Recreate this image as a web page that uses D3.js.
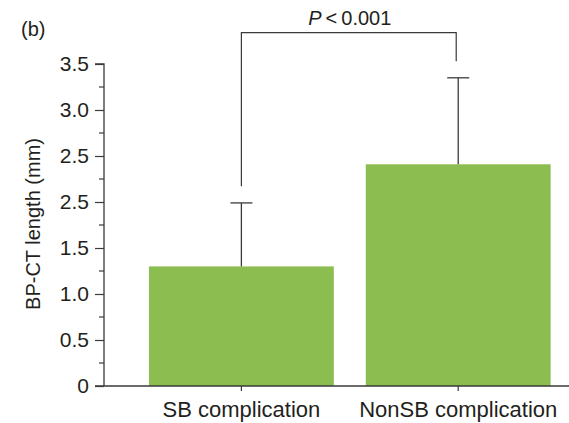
<!DOCTYPE html>
<html>
<head>
<meta charset="utf-8">
<script src="https://cdn.jsdelivr.net/npm/d3@7"></script>
<style>
  body { margin: 0; background: #fff; }
  svg { display: block; font-family: "Liberation Sans", Arial, sans-serif; }
</style>
</head>
<body>
<svg id="chart" width="569" height="423"></svg>
<script>
// data
const categories = ['SB complication', 'NonSB complication'];
const means = [1.3, 2.41];
const errTops = [1.99, 3.35];
const yTickValues = [0, 0.5, 1.0, 1.5, 2.0, 2.5, 3.0, 3.5];
const yTickLabels = ['0', '0.5', '1.0', '1.5', '2.5', '2.5', '3.0', '3.5']; // as printed
const bracketLegs = [2.17, 3.53];
const bracketTop = 3.84;
const pLabel = '0.001';

const svg = d3.select('#chart');
const textColor = '#231f20';
const axisColor = '#3a3a3a';
const barColor = '#8cbd50';

const x = d3.scaleBand()
  .domain(categories)
  .range([105.6, 594])
  .paddingInner(0.1475)
  .paddingOuter(0.2);

const y = d3.scaleLinear()
  .domain([0, 3.5])
  .range([386, 64]);

// bars
svg.selectAll('rect.bar')
  .data(categories)
  .enter().append('rect')
  .attr('class', 'bar')
  .attr('x', d => x(d))
  .attr('y', (d, i) => y(means[i]))
  .attr('width', x.bandwidth())
  .attr('height', (d, i) => y(0) - y(means[i]))
  .attr('fill', barColor);

// error bars
const cx = d => x(d) + x.bandwidth() / 2;
svg.selectAll('line.err')
  .data(categories)
  .enter().append('line')
  .attr('x1', cx).attr('x2', cx)
  .attr('y1', (d, i) => y(means[i]))
  .attr('y2', (d, i) => y(errTops[i]))
  .attr('stroke', axisColor).attr('stroke-width', 1.3);
svg.selectAll('line.cap')
  .data(categories)
  .enter().append('line')
  .attr('x1', d => cx(d) - 11).attr('x2', d => cx(d) + 11)
  .attr('y1', (d, i) => y(errTops[i]))
  .attr('y2', (d, i) => y(errTops[i]))
  .attr('stroke', axisColor).attr('stroke-width', 1.3);

// significance bracket
svg.append('path')
  .attr('d', `M${cx(categories[0])},${y(bracketLegs[0])}V${y(bracketTop)}H${cx(categories[1]) - 2}V${y(bracketLegs[1])}`)
  .attr('fill', 'none')
  .attr('stroke', axisColor)
  .attr('stroke-width', 1.2);

const pt = svg.append('text')
  .attr('x', (cx(categories[0]) + cx(categories[1])) / 2)
  .attr('y', 25)
  .attr('text-anchor', 'middle')
  .attr('font-size', 20)
  .attr('fill', textColor);
pt.append('tspan').attr('font-style', 'italic').text('P');
pt.append('tspan').attr('dx', 4).text('<');
pt.append('tspan').attr('dx', 4).text(pLabel);

// y axis
const yAxis = d3.axisLeft(y)
  .tickValues(yTickValues)
  .tickFormat((d, i) => yTickLabels[i])
  .tickSize(9)
  .tickPadding(6);
const gy = svg.append('g')
  .attr('transform', 'translate(104,0)')
  .call(yAxis);
gy.select('.domain').attr('d', `M-9,${y(3.5)}H0V${y(0)}`).attr('stroke', axisColor).attr('stroke-width', 1.3);
gy.selectAll('.tick line').attr('stroke', axisColor).attr('stroke-width', 1.2);
gy.selectAll('.tick text').attr('font-size', 21).attr('fill', textColor)
  .attr('font-family', '"Liberation Sans", Arial, sans-serif');

// minor ticks
const minor = d3.range(0.25, 3.5, 0.5);
gy.selectAll('line.minor')
  .data(minor)
  .enter().append('line')
  .attr('x1', -5).attr('x2', 0)
  .attr('y1', d => y(d)).attr('y2', d => y(d))
  .attr('stroke', axisColor).attr('stroke-width', 1.2);

// x axis
const xAxis = d3.axisBottom(x).tickSize(5).tickPadding(10).tickSizeOuter(0);
const gx = svg.append('g')
  .attr('transform', `translate(0,${y(0)})`)
  .call(xAxis);
gx.select('.domain').attr('d', `M95,0H569`).attr('stroke', axisColor).attr('stroke-width', 1.3);
gx.selectAll('.tick line').attr('stroke', axisColor).attr('stroke-width', 1.2);
gx.selectAll('.tick text').attr('font-size', 22).attr('fill', textColor)
  .attr('font-family', '"Liberation Sans", Arial, sans-serif');

// y label
svg.append('text')
  .attr('transform', `translate(40,${(y(0) + y(3.5)) / 2 - 1}) rotate(-90)`)
  .attr('text-anchor', 'middle')
  .attr('font-size', 20)
  .attr('fill', textColor)
  .text('BP-CT length (mm)');

// panel label
svg.append('text')
  .attr('x', 21).attr('y', 36)
  .attr('font-size', 20)
  .attr('fill', textColor)
  .text('(b)');
</script>
</body>
</html>
